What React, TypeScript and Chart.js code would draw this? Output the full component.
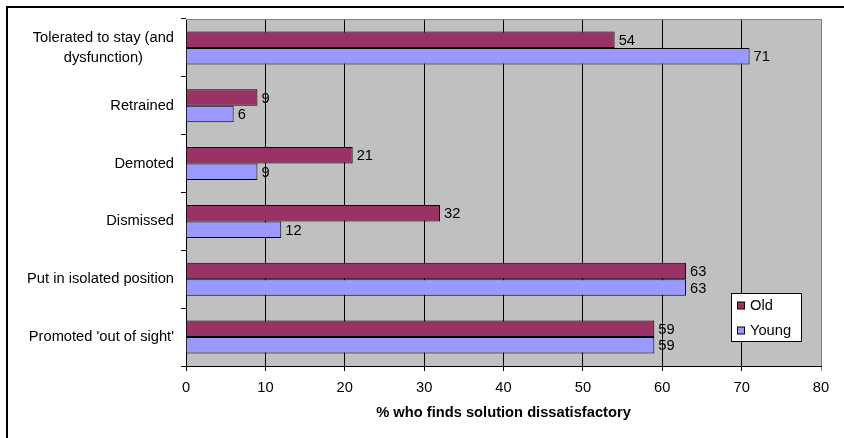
import React, { useEffect, useRef } from "react";
import { Chart, registerables } from "chart.js";

Chart.register(...registerables);

const categories: (string | string[])[] = [
  ["Tolerated to stay (and", "dysfunction)"],
  "Retrained",
  "Demoted",
  "Dismissed",
  "Put in isolated position",
  "Promoted 'out of sight'",
];
const oldValues = [54, 9, 21, 32, 63, 59];
const youngValues = [71, 6, 9, 12, 63, 59];
const seriesNames = ["Old", "Young"];
const seriesColors = ["#993366", "#9999ff"];
const xTitle = "% who finds solution dissatisfactory";
const xMin = 0;
const xMax = 80;
const xStep = 10;

const FONT_FAMILY = "'Liberation Sans', Arial, sans-serif";
const FONT_SIZE = 14.7;

const framePlugin = {
  id: "frame",
  beforeDraw(chart: any) {
    const { ctx, chartArea, width, height } = chart;
    ctx.save();
    ctx.fillStyle = "#ffffff";
    ctx.fillRect(0, 0, width, height);
    ctx.fillStyle = "#c0c0c0";
    ctx.fillRect(chartArea.left, chartArea.top, chartArea.right - chartArea.left, chartArea.bottom - chartArea.top);
    ctx.fillStyle = "#000000";
    ctx.fillRect(6, 6, width - 6, 2);
    ctx.fillRect(6, 6, 2, height - 6);
    ctx.restore();
  },
  beforeDatasetsDraw(chart: any) {
    const { ctx, chartArea } = chart;
    ctx.save();
    ctx.strokeStyle = "#808080";
    ctx.lineWidth = 1;
    ctx.beginPath();
    ctx.moveTo(chartArea.left, Math.round(chartArea.top) + 0.5);
    ctx.lineTo(chartArea.right + 0.5, Math.round(chartArea.top) + 0.5);
    ctx.lineTo(chartArea.right + 0.5, chartArea.bottom);
    ctx.stroke();
    ctx.restore();
  },
  afterDatasetsDraw(chart: any) {
    const { ctx } = chart;
    ctx.save();
    ctx.font = `${FONT_SIZE}px ${FONT_FAMILY}`;
    ctx.fillStyle = "#000";
    ctx.textAlign = "left";
    ctx.textBaseline = "middle";
    chart.data.datasets.forEach((ds: any, di: number) => {
      const meta = chart.getDatasetMeta(di);
      meta.data.forEach((bar: any, i: number) => {
        ctx.fillText(String(ds.data[i]), bar.x + 4, bar.y + 1);
      });
    });
    // y category labels
    const yScale = chart.scales.y;
    const labels = chart.data.labels as (string | string[])[];
    const rightEdge = yScale.right - 12;
    const lineH = 20;
    labels.forEach((lab, i) => {
      const lines = Array.isArray(lab) ? lab : [lab];
      const widths = lines.map((l) => ctx.measureText(l).width);
      const widest = Math.max(...widths);
      const cx = rightEdge - widest / 2;
      const cy = yScale.getPixelForValue(i);
      ctx.textAlign = "center";
      lines.forEach((l, li) => {
        const y = cy + (li - (lines.length - 1) / 2) * lineH;
        ctx.fillText(l, cx, y);
      });
    });
    // legend
    const lx = 731.5, ly = 293.5, lw = 70, lh = 48;
    ctx.fillStyle = "#ffffff";
    ctx.fillRect(lx, ly, lw, lh);
    ctx.strokeStyle = "#000";
    ctx.lineWidth = 1;
    ctx.strokeRect(lx, ly, lw, lh);
    ctx.textAlign = "left";
    chart.data.datasets.forEach((ds: any, di: number) => {
      const cy = 306 + di * 25;
      ctx.fillStyle = ds.backgroundColor;
      ctx.fillRect(737.5, cy - 4, 7, 7);
      ctx.strokeStyle = "#000";
      ctx.strokeRect(737.5, cy - 4, 7, 7);
      ctx.fillStyle = "#000";
      ctx.fillText(ds.label, 750, cy);
    });
    ctx.restore();
  },
};

export default function App() {
  const ref = useRef<HTMLCanvasElement | null>(null);
  useEffect(() => {
    if (!ref.current) return;
    const font = { family: FONT_FAMILY, size: FONT_SIZE };
    const chart = new Chart(ref.current, {
      type: "bar",
      data: {
        labels: categories,
        datasets: [
          {
            label: seriesNames[0],
            data: oldValues,
            backgroundColor: seriesColors[0],
            borderColor: "#000",
            borderWidth: 1,
            categoryPercentage: 0.57,
            barPercentage: 1,
          },
          {
            label: seriesNames[1],
            data: youngValues,
            backgroundColor: seriesColors[1],
            borderColor: "#000",
            borderWidth: 1,
            categoryPercentage: 0.57,
            barPercentage: 1,
          },
        ],
      },
      options: {
        indexAxis: "y",
        responsive: false,
        animation: false,
        layout: { padding: { top: 19, right: 23, left: 0, bottom: 0 } },
        scales: {
          x: {
            type: "linear",
            min: xMin,
            max: xMax,
            ticks: { stepSize: xStep, color: "#000", font, padding: 8, maxRotation: 0 },
            grid: {
              color: (c: any) => (c.tick && c.tick.value === xMax ? "#808080" : "#000"),
              lineWidth: 1,
              tickLength: 5,
            },
            border: { color: "#000", width: 1 },
            title: {
              display: true,
              text: xTitle,
              color: "#000",
              font: { family: FONT_FAMILY, size: FONT_SIZE, weight: "bold" },
              padding: { top: 0, bottom: 16 },
            },
            afterFit: (s: any) => {
              s.height = 72;
            },
          },
          y: {
            ticks: { display: false },
            grid: { drawOnChartArea: false, tickLength: 5, color: "#000" },
            border: { color: "#000", width: 1 },
            afterFit: (s: any) => {
              s.width = 186;
            },
          },
        },
        plugins: { legend: { display: false }, tooltip: { enabled: false } },
      },
      plugins: [framePlugin],
    } as any);
    return () => chart.destroy();
  }, []);
  return (
    <div style={{ position: "fixed", left: 0, top: 0, width: 844, height: 438, background: "#fff" }}>
      <canvas ref={ref} width={844} height={438} style={{ display: "block" }} />
    </div>
  );
}
